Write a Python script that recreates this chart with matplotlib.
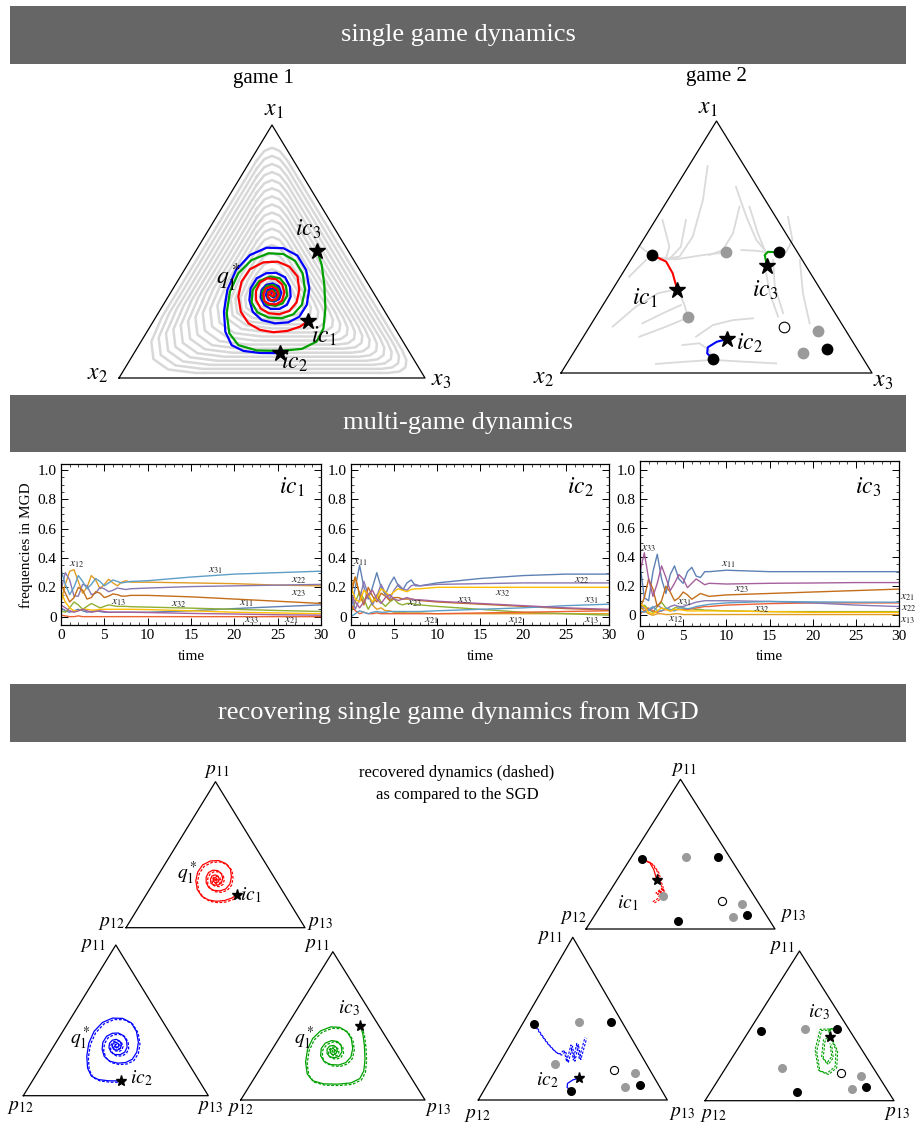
import numpy as np
import matplotlib.pyplot as plt
import matplotlib.transforms as mtransforms
from matplotlib.patches import Rectangle

plt.rcParams['font.family'] = ['Liberation Serif', 'DejaVu Serif']
plt.rcParams['mathtext.fontset'] = 'stix'

W, H = 917, 1125
SQ = np.sqrt(3) / 2

# ---------------- game 1 (single game dynamics), ternary shares x1 / x3 ----------------
G1_RED_X1 = [0.225, 0.203, 0.186, 0.181, 0.190, 0.216, 0.262, 0.322, 0.381, 0.430, 0.457, 0.460, 0.440, 0.401, 0.348,
             0.299, 0.265, 0.252, 0.256, 0.275, 0.308, 0.345, 0.378, 0.394, 0.391, 0.370, 0.339, 0.306, 0.291, 0.293,
             0.304, 0.332, 0.354, 0.362, 0.352, 0.331, 0.312, 0.307, 0.320, 0.339, 0.344, 0.333, 0.323, 0.331]
G1_RED_X3 = [0.506, 0.490, 0.457, 0.414, 0.366, 0.315, 0.267, 0.229, 0.210, 0.213, 0.243, 0.288, 0.337, 0.383, 0.415,
             0.431, 0.424, 0.398, 0.361, 0.325, 0.294, 0.275, 0.272, 0.288, 0.317, 0.348, 0.371, 0.380, 0.368, 0.344,
             0.323, 0.306, 0.303, 0.318, 0.339, 0.356, 0.358, 0.345, 0.327, 0.319, 0.328, 0.342, 0.342, 0.330]
G1_BLUE_X1 = [0.098, 0.099, 0.107, 0.130, 0.183, 0.262, 0.348, 0.427, 0.486, 0.515, 0.513, 0.484, 0.427, 0.354, 0.289,
              0.242, 0.220, 0.216, 0.229, 0.262, 0.308, 0.354, 0.394, 0.414, 0.416, 0.398, 0.361, 0.322, 0.289, 0.273,
              0.273, 0.289, 0.318, 0.348, 0.368, 0.374, 0.362, 0.337, 0.312, 0.302, 0.308, 0.328, 0.348, 0.354, 0.344,
              0.325, 0.318, 0.328, 0.337]
G1_BLUE_X3 = [0.477, 0.411, 0.353, 0.303, 0.256, 0.212, 0.180, 0.169, 0.185, 0.225, 0.281, 0.341, 0.398, 0.445, 0.469,
              0.468, 0.443, 0.402, 0.352, 0.306, 0.272, 0.253, 0.253, 0.274, 0.305, 0.344, 0.378, 0.400, 0.404, 0.388,
              0.359, 0.330, 0.304, 0.292, 0.297, 0.315, 0.341, 0.362, 0.368, 0.356, 0.334, 0.316, 0.312, 0.325, 0.343,
              0.353, 0.346, 0.329, 0.331]
G1_GREEN_X1 = [0.502, 0.447, 0.368, 0.275, 0.196, 0.144, 0.115, 0.107, 0.109, 0.130, 0.177, 0.256, 0.341, 0.414, 0.466,
               0.493, 0.490, 0.463, 0.414, 0.348, 0.289, 0.252, 0.236, 0.239, 0.260, 0.299, 0.348, 0.383, 0.401, 0.394,
               0.365, 0.325, 0.295, 0.285, 0.291, 0.315, 0.344, 0.364, 0.368, 0.352, 0.328, 0.308, 0.306, 0.322, 0.341,
               0.348, 0.337, 0.323, 0.324]
G1_GREEN_X3 = [0.397, 0.439, 0.487, 0.537, 0.570, 0.574, 0.540, 0.473, 0.395, 0.325, 0.272, 0.224, 0.192, 0.183, 0.200,
               0.242, 0.292, 0.344, 0.393, 0.434, 0.453, 0.444, 0.414, 0.369, 0.322, 0.284, 0.263, 0.267, 0.293, 0.329,
               0.363, 0.387, 0.387, 0.368, 0.337, 0.311, 0.297, 0.301, 0.321, 0.345, 0.360, 0.359, 0.343, 0.324, 0.317,
               0.327, 0.343, 0.346, 0.336]
# background stream loops: inset margin of each loop, and corner rounding (top, x3 corner, x2 corner)
GRAY_MARGINS = [0.02, 0.036, 0.052, 0.068, 0.084, 0.10, 0.116, 0.132, 0.148, 0.164,
                0.18, 0.196, 0.212, 0.228, 0.244, 0.26, 0.276, 0.292, 0.308]
GRAY_ROUNDING = [0.10, 0.09, 0.22]

# ---------------- game 2 ----------------
G2_BLACK_X1 = [0.468, 0.479, 0.094, 0.056]
G2_BLACK_X3 = [0.060, 0.461, 0.807, 0.460]
G2_GRAY_X1 = [0.479, 0.221, 0.168, 0.081]
G2_GRAY_X3 = [0.291, 0.297, 0.743, 0.738]
G2_OPEN_X1 = [0.184]
G2_OPEN_X3 = [0.625]
G2_RED_X1 = [0.329, 0.356, 0.396, 0.442, 0.468]
G2_RED_X3 = [0.210, 0.190, 0.161, 0.117, 0.060]
G2_BLUE_X1 = [0.134, 0.124, 0.102, 0.078, 0.056]
G2_BLUE_X3 = [0.466, 0.439, 0.421, 0.431, 0.460]
G2_GREEN_X1 = [0.425, 0.468, 0.481, 0.479]
G2_GREEN_X3 = [0.450, 0.421, 0.425, 0.461]
G2_STREAMS = [
    ([0.821, 0.687, 0.541, 0.462, 0.448], [0.061, 0.113, 0.153, 0.150, 0.092]),
    ([0.607, 0.501, 0.451], [0.098, 0.135, 0.122]),
    ([0.479, 0.468, 0.451, 0.458], [0.292, 0.222, 0.144, 0.082]),
    ([0.660, 0.554, 0.488, 0.468], [0.244, 0.276, 0.276, 0.243]),
    ([0.501, 0.468], [0.005, 0.055]),
    ([0.221, 0.270, 0.316, 0.343], [0.298, 0.262, 0.223, 0.201]),
    ([0.197, 0.237, 0.270], [0.163, 0.209, 0.251]),
    ([0.184, 0.263, 0.316, 0.329], [0.074, 0.109, 0.153, 0.194]),
    ([0.144, 0.184, 0.217], [0.180, 0.246, 0.294]),
    ([0.036, 0.045, 0.052, 0.045, 0.038], [0.287, 0.380, 0.462, 0.563, 0.673]),
    ([0.111, 0.118, 0.091, 0.058], [0.335, 0.386, 0.431, 0.459]),
    ([0.144, 0.190, 0.210, 0.217], [0.362, 0.393, 0.448, 0.509]),
    ([0.739, 0.620, 0.528, 0.481], [0.193, 0.286, 0.364, 0.419]),
    ([0.488, 0.485, 0.478], [0.336, 0.385, 0.432]),
    ([0.660, 0.554, 0.488], [0.276, 0.356, 0.411]),
    ([0.396, 0.316, 0.224], [0.462, 0.513, 0.586]),
    ([0.448, 0.316, 0.197], [0.544, 0.620, 0.701]),
    ([0.620, 0.528, 0.481], [0.420, 0.480, 0.484]),
    ([0.448, 0.343, 0.237], [0.458, 0.516, 0.596]),
    ([0.382, 0.448], [0.028, 0.049]),
    ([0.607, 0.501, 0.455], [0.023, 0.098, 0.110]),
]
# recovered (dashed) game-2 dynamics from the MGD
REC_RED_X1 = [0.472, 0.439, 0.383, 0.316, 0.260, 0.240, 0.272, 0.205, 0.182]
REC_RED_X3 = [0.059, 0.128, 0.186, 0.234, 0.276, 0.250, 0.265, 0.280, 0.262]
REC_BLUE_X1 = [0.467, 0.410, 0.348, 0.297, 0.283, 0.307, 0.235, 0.338, 0.246, 0.348, 0.256, 0.385]
REC_BLUE_X3 = [0.061, 0.121, 0.191, 0.258, 0.291, 0.300, 0.350, 0.321, 0.380, 0.347, 0.406, 0.372]
REC_GREEN_X1 = [0.481, 0.477, 0.339, 0.205, 0.183, 0.227, 0.339, 0.428, 0.405, 0.294, 0.250, 0.294, 0.383]
REC_GREEN_X3 = [0.460, 0.370, 0.413, 0.497, 0.553, 0.575, 0.524, 0.447, 0.424, 0.470, 0.519, 0.523, 0.470]

# ---------------- multi-game dynamics time series ----------------
T_GRID = [0, 0.5, 1, 1.5, 2, 2.5, 3, 3.5, 4, 4.5, 5, 5.5, 6, 6.5, 7, 7.5, 8, 10, 15, 20, 25, 30]
IC1_SERIES = {
    '11': [0.06, 0.04, 0.03, 0.04, 0.05, 0.04, 0.03, 0.035, 0.04, 0.035, 0.03, 0.03, 0.03, 0.03, 0.03, 0.03, 0.03, 0.03, 0.04, 0.055, 0.068, 0.08],
    '12': [0.10, 0.22, 0.31, 0.32, 0.24, 0.16, 0.20, 0.28, 0.25, 0.19, 0.22, 0.255, 0.23, 0.21, 0.235, 0.245, 0.235, 0.235, 0.23, 0.225, 0.215, 0.21],
    '13': [0.04, 0.03, 0.06, 0.10, 0.08, 0.05, 0.07, 0.09, 0.075, 0.06, 0.07, 0.08, 0.075, 0.07, 0.07, 0.07, 0.068, 0.065, 0.058, 0.05, 0.042, 0.035],
    '21': [0.01, 0.005, 0.0, 0.0, 0.005, 0.0, 0.0, 0.0, 0.0, 0.0, 0.0, 0.0, 0.0, 0.0, 0.0, 0.0, 0.0, 0.0, 0.0, 0.0, 0.0, 0.0],
    '22': [0.18, 0.30, 0.25, 0.14, 0.14, 0.22, 0.21, 0.15, 0.16, 0.20, 0.19, 0.17, 0.18, 0.195, 0.19, 0.185, 0.19, 0.195, 0.205, 0.21, 0.215, 0.22],
    '23': [0.22, 0.16, 0.10, 0.13, 0.20, 0.18, 0.12, 0.13, 0.17, 0.16, 0.13, 0.14, 0.155, 0.15, 0.14, 0.14, 0.145, 0.145, 0.135, 0.12, 0.105, 0.09],
    '31': [0.32, 0.22, 0.15, 0.20, 0.28, 0.24, 0.19, 0.22, 0.26, 0.24, 0.21, 0.23, 0.25, 0.24, 0.23, 0.235, 0.24, 0.245, 0.27, 0.29, 0.30, 0.31],
    '32': [0.17, 0.10, 0.06, 0.04, 0.04, 0.05, 0.05, 0.045, 0.045, 0.05, 0.05, 0.05, 0.05, 0.05, 0.05, 0.05, 0.05, 0.048, 0.04, 0.03, 0.025, 0.02],
    '33': [0.08, 0.06, 0.04, 0.03, 0.04, 0.05, 0.04, 0.03, 0.035, 0.04, 0.035, 0.03, 0.03, 0.03, 0.03, 0.03, 0.03, 0.028, 0.022, 0.018, 0.013, 0.01],
}
IC2_SERIES = {
    '11': [0.05, 0.20, 0.35, 0.20, 0.12, 0.20, 0.30, 0.20, 0.15, 0.22, 0.27, 0.21, 0.18, 0.23, 0.25, 0.21, 0.21, 0.23, 0.26, 0.28, 0.29, 0.29],
    '12': [0.20, 0.27, 0.15, 0.10, 0.15, 0.08, 0.05, 0.06, 0.04, 0.04, 0.03, 0.03, 0.03, 0.025, 0.025, 0.025, 0.025, 0.02, 0.02, 0.02, 0.02, 0.02],
    '13': [0.03, 0.10, 0.17, 0.12, 0.05, 0.10, 0.15, 0.10, 0.07, 0.10, 0.12, 0.09, 0.08, 0.09, 0.09, 0.085, 0.08, 0.07, 0.05, 0.03, 0.02, 0.01],
    '21': [0.08, 0.04, 0.02, 0.03, 0.02, 0.02, 0.025, 0.02, 0.02, 0.02, 0.02, 0.02, 0.02, 0.02, 0.02, 0.02, 0.02, 0.02, 0.025, 0.03, 0.035, 0.04],
    '22': [0.15, 0.05, 0.12, 0.24, 0.15, 0.08, 0.14, 0.22, 0.16, 0.12, 0.18, 0.22, 0.19, 0.18, 0.21, 0.22, 0.21, 0.22, 0.225, 0.23, 0.23, 0.23],
    '23': [0.15, 0.27, 0.15, 0.08, 0.20, 0.14, 0.10, 0.16, 0.14, 0.11, 0.13, 0.13, 0.12, 0.12, 0.12, 0.115, 0.11, 0.10, 0.085, 0.07, 0.055, 0.045],
    '31': [0.0, 0.02, 0.04, 0.03, 0.02, 0.03, 0.035, 0.03, 0.03, 0.035, 0.035, 0.035, 0.035, 0.035, 0.035, 0.035, 0.035, 0.04, 0.05, 0.06, 0.075, 0.085],
    '32': [0.20, 0.12, 0.10, 0.18, 0.15, 0.10, 0.13, 0.19, 0.17, 0.14, 0.17, 0.19, 0.18, 0.17, 0.185, 0.19, 0.19, 0.20, 0.20, 0.20, 0.20, 0.20],
    '33': [0.15, 0.10, 0.06, 0.10, 0.15, 0.18, 0.12, 0.09, 0.13, 0.15, 0.12, 0.11, 0.12, 0.13, 0.12, 0.115, 0.115, 0.105, 0.09, 0.075, 0.06, 0.05],
}
IC3_SERIES = {
    '11': [0.35, 0.12, 0.10, 0.30, 0.42, 0.25, 0.15, 0.28, 0.34, 0.25, 0.22, 0.30, 0.33, 0.27, 0.26, 0.30, 0.30, 0.31, 0.30, 0.30, 0.30, 0.30],
    '12': [0.06, 0.03, 0.01, 0.0, 0.01, 0.01, 0.005, 0.005, 0.01, 0.01, 0.005, 0.005, 0.005, 0.005, 0.005, 0.005, 0.005, 0.005, 0.005, 0.005, 0.005, 0.005],
    '13': [0.05, 0.07, 0.04, 0.02, 0.06, 0.09, 0.05, 0.03, 0.05, 0.06, 0.05, 0.04, 0.045, 0.04, 0.04, 0.035, 0.035, 0.03, 0.025, 0.025, 0.025, 0.025],
    '21': [0.01, 0.03, 0.05, 0.03, 0.02, 0.03, 0.04, 0.03, 0.035, 0.04, 0.04, 0.04, 0.045, 0.05, 0.055, 0.06, 0.06, 0.07, 0.08, 0.085, 0.085, 0.085],
    '22': [0.07, 0.05, 0.03, 0.05, 0.07, 0.05, 0.04, 0.06, 0.07, 0.06, 0.06, 0.07, 0.08, 0.09, 0.095, 0.10, 0.10, 0.10, 0.095, 0.085, 0.07, 0.06],
    '23': [0.05, 0.12, 0.25, 0.18, 0.06, 0.10, 0.20, 0.16, 0.10, 0.12, 0.16, 0.14, 0.11, 0.13, 0.15, 0.14, 0.13, 0.14, 0.15, 0.16, 0.17, 0.18],
    '31': [0.03, 0.02, 0.04, 0.06, 0.03, 0.03, 0.05, 0.04, 0.03, 0.05, 0.05, 0.045, 0.05, 0.06, 0.065, 0.07, 0.075, 0.085, 0.095, 0.092, 0.09, 0.09],
    '32': [0.08, 0.06, 0.02, 0.01, 0.03, 0.05, 0.04, 0.03, 0.04, 0.04, 0.035, 0.03, 0.03, 0.03, 0.03, 0.03, 0.03, 0.03, 0.025, 0.02, 0.02, 0.02],
    '33': [0.30, 0.43, 0.25, 0.13, 0.22, 0.34, 0.26, 0.17, 0.22, 0.28, 0.25, 0.19, 0.22, 0.25, 0.23, 0.21, 0.22, 0.215, 0.22, 0.222, 0.225, 0.225],
}
IC1_LABELS = [('12', 1.8, 0.36), ('31', 17.8, 0.32), ('22', 27.4, 0.25), ('23', 27.4, 0.16), ('13', 6.6, 0.10),
              ('32', 13.6, 0.086), ('11', 21.4, 0.09), ('33', 22.0, -0.02), ('21', 26.6, -0.02)]
IC2_LABELS = [('11', 1.05, 0.37), ('22', 26.8, 0.25), ('23', 7.4, 0.09), ('33', 13.2, 0.115), ('32', 17.7, 0.16),
              ('31', 28.0, 0.115), ('21', 9.4, -0.023), ('12', 19.2, -0.023), ('13', 28.0, -0.023)]
IC3_LABELS = [('33', 1.0, 0.46), ('11', 10.2, 0.353), ('23', 11.8, 0.18), ('31', 5.2, 0.088), ('32', 14.1, 0.04),
              ('12', 4.2, -0.028), ('21', 31.0, 0.125), ('22', 31.1, 0.048), ('13', 31.0, -0.03)]
MMA_COLORS = {'11': '#5E81B5', '12': '#E19C24', '13': '#8FB032', '21': '#EB6235', '22': '#8778B3',
              '23': '#C56E1A', '31': '#5D9EC7', '32': '#FFBF00', '33': '#A5609D'}

RED, BLUE, GREEN = '#ff0000', '#0000ff', '#00a000'

fig = plt.figure(figsize=(W / 100, H / 100), dpi=100)


def box(left, top, right, bottom):
    return [left / W, 1 - bottom / H, (right - left) / W, (bottom - top) / H]


def ftext(px, py, s, size, **kw):
    kw.setdefault('ha', 'center')
    kw.setdefault('va', 'center')
    fig.text(px / W, 1 - py / H, s, fontsize=size, **kw)


def tern(x1, x3):
    x1 = np.asarray(x1, dtype=float)
    x3 = np.asarray(x3, dtype=float)
    return x3 + x1 / 2, x1 * SQ


def tri_axes(left, top, right, bottom):
    ax = fig.add_axes(box(left, top, right, bottom))
    ax.set_xlim(0, 1)
    ax.set_ylim(0, SQ)
    ax.axis('off')
    ax.plot([0, 1, 0.5, 0], [0, 0, SQ, 0], color='black', lw=0.9, clip_on=False, zorder=6)
    return ax


def gray_loop(m, rounding):
    # inset triangle (x1, x2, x3) whose corners are rounded off by quadratic arcs
    corners = np.array([[1 - 2 * m, m, m], [m, m, 1 - 2 * m], [m, 1 - 2 * m, m]])
    side = 1 - 3 * m
    pts = []
    for k in range(3):
        c, prv, nxt = corners[k], corners[k - 1], corners[(k + 1) % 3]
        f = min(rounding[k] / side, 0.5)
        a = c + f * (prv - c)
        b = c + f * (nxt - c)
        for s in (0.0, 0.25, 0.5, 0.75, 1.0):
            pts.append((1 - s) ** 2 * a + 2 * s * (1 - s) * c + s ** 2 * b)
    pts.append(pts[0])
    pts = np.array(pts)
    return pts[:, 0], pts[:, 2]


def star(ax, x1, x3, ms):
    u, v = tern([x1], [x3])
    ax.plot(u, v, marker='*', ms=ms, color='black', ls='none', zorder=8, clip_on=False)


def g2_points(ax, ms):
    u, v = tern(G2_GRAY_X1, G2_GRAY_X3)
    ax.plot(u, v, 'o', ms=ms, color='#9a9a9a', mec='none', zorder=7)
    u, v = tern(G2_BLACK_X1, G2_BLACK_X3)
    ax.plot(u, v, 'o', ms=ms, color='black', mec='none', zorder=7)
    u, v = tern(G2_OPEN_X1, G2_OPEN_X3)
    ax.plot(u, v, 'o', ms=ms * 0.9, mfc='white', mec='black', mew=0.8, zorder=7)


def shifted(ax, dx, dy):
    return mtransforms.offset_copy(ax.transData, fig=fig, x=dx, y=dy, units='dots')


# ---------------- banners ----------------
for top, bottom, title in [(6, 64, 'single game dynamics'), (395, 452, 'multi-game dynamics'),
                           (684, 742, 'recovering single game dynamics from MGD')]:
    fig.add_artist(Rectangle((10 / W, 1 - bottom / H), 896 / W, (bottom - top) / H,
                             transform=fig.transFigure, color='#666666', lw=0))
    ftext(458, (top + bottom) / 2, title, 19, color='white')

# ---------------- game 1 ----------------
ax = tri_axes(119, 125, 425, 378)
for m in GRAY_MARGINS:
    a, b = gray_loop(m, GRAY_ROUNDING)
    u, v = tern(a, b)
    ax.plot(u, v, color='#d8d8d8', lw=1.8, solid_joinstyle='round', zorder=1)
for x1s, x3s, col in [(G1_BLUE_X1, G1_BLUE_X3, BLUE), (G1_GREEN_X1, G1_GREEN_X3, GREEN),
                      (G1_RED_X1, G1_RED_X3, RED)]:
    u, v = tern(x1s, x3s)
    ax.plot(u, v, color=col, lw=1.6, solid_joinstyle='round', zorder=3)
    star(ax, x1s[0], x3s[0], 12)
ftext(263, 79, 'game 1', 15)
ftext(274, 110, r'$x_1$', 17)
ftext(97, 374, r'$x_2$', 17)
ftext(441, 380, r'$x_3$', 17)
ftext(308, 229, r'$ic_3$', 17)
ftext(228, 278, r'$q_1^*$', 17)
ftext(324, 336, r'$ic_1$', 17)
ftext(294, 362, r'$ic_2$', 17)

# ---------------- game 2 ----------------
ax = tri_axes(561, 121, 872, 373)
for x1s, x3s in G2_STREAMS:
    u, v = tern(x1s, x3s)
    ax.plot(u, v, color='#dadada', lw=1.3, zorder=1)
for x1s, x3s, col in [(G2_RED_X1, G2_RED_X3, RED), (G2_BLUE_X1, G2_BLUE_X3, BLUE),
                      (G2_GREEN_X1, G2_GREEN_X3, GREEN)]:
    u, v = tern(x1s, x3s)
    ax.plot(u, v, color=col, lw=1.5, zorder=3)
    star(ax, x1s[0], x3s[0], 12)
g2_points(ax, 8.5)
ftext(716, 77, 'game 2', 15)
ftext(708, 108, r'$x_1$', 17)
ftext(543, 378, r'$x_2$', 17)
ftext(883, 381, r'$x_3$', 17)
ftext(645, 298, r'$ic_1$', 17)
ftext(765, 290, r'$ic_3$', 17)
ftext(749, 343, r'$ic_2$', 17)

# ---------------- multi-game dynamics ----------------
panels = [((61, 464, 321, 625), IC1_SERIES, IC1_LABELS, r'$ic_1$', (-0.057, 1.041), 292),
          ((351, 464, 609, 625), IC2_SERIES, IC2_LABELS, r'$ic_2$', (-0.057, 1.041), 580),
          ((640, 461, 899, 626), IC3_SERIES, IC3_LABELS, r'$ic_3$', (-0.074, 1.062), 868)]
for bx, series, labels, tag, ylim, tagx in panels:
    ax = fig.add_axes(box(*bx))
    for key in ['11', '12', '13', '21', '22', '23', '31', '32', '33']:
        ax.plot(T_GRID, series[key], color=MMA_COLORS[key], lw=1.0)
    for key, t, y in labels:
        ax.text(t, y, r'$x_{%s}$' % key, fontsize=8.5, ha='center', va='center', clip_on=False, color='#222222')
    ax.set_xlim(0, 30)
    ax.set_ylim(*ylim)
    ax.set_xticks(range(0, 31, 5))
    ax.set_xticks(range(0, 31), minor=True)
    ax.set_yticks([0, 0.2, 0.4, 0.6, 0.8, 1.0])
    ax.set_yticklabels(['0', '0.2', '0.4', '0.6', '0.8', '1.0'])
    ax.set_yticks(np.arange(0, 1.01, 0.05), minor=True)
    ax.tick_params(which='both', direction='in', top=True, right=True)
    ax.tick_params(which='major', length=5, width=0.7, labelsize=11, pad=3)
    ax.tick_params(which='minor', length=2.5, width=0.5)
    for sp in ax.spines.values():
        sp.set_linewidth(0.9)
    ftext(tagx, 487, tag, 17)
    ftext((bx[0] + bx[2]) / 2, 657, 'time', 11)
ftext(26, 545, 'frequencies in MGD', 11, rotation=90)

# ---------------- recovering single game dynamics ----------------
ftext(457, 773, 'recovered dynamics (dashed)', 12)
ftext(457, 795, 'as compared to the SGD', 12)

# game 1: SGD (solid) and recovered (dashed)
game1_small = [((126, 781.7, 305, 927.7), G1_RED_X1, G1_RED_X3, RED),
               ((23.3, 945, 208.3, 1095.7), G1_BLUE_X1, G1_BLUE_X3, BLUE),
               ((240.7, 951.7, 425, 1100), G1_GREEN_X1, G1_GREEN_X3, GREEN)]
for bx, x1s, x3s, col in game1_small:
    ax = tri_axes(*bx)
    u, v = tern(x1s, x3s)
    ax.plot(u, v, color=col, lw=0.9, zorder=3)
    ax.plot(u, v, color=col, lw=0.9, ls=(0, (2.2, 1.3)), zorder=3, transform=shifted(ax, 1.6, -1.4))
    star(ax, x1s[0], x3s[0], 8)

# game 2: SGD (solid) and recovered (dashed)
game2_small = [((586, 779.3, 775, 929), G2_RED_X1, G2_RED_X3, REC_RED_X1, REC_RED_X3, RED),
               ((478.3, 937.3, 667.3, 1100), G2_BLUE_X1, G2_BLUE_X3, REC_BLUE_X1, REC_BLUE_X3, BLUE),
               ((705, 951, 894, 1100.7), G2_GREEN_X1, G2_GREEN_X3, REC_GREEN_X1, REC_GREEN_X3, GREEN)]
for bx, x1s, x3s, r1, r3, col in game2_small:
    ax = tri_axes(*bx)
    u, v = tern(x1s, x3s)
    ax.plot(u, v, color=col, lw=0.9, zorder=3)
    u, v = tern(r1, r3)
    ax.plot(u, v, color=col, lw=0.8, ls=(0, (2.2, 1.3)), zorder=3)
    ax.plot(u, v, color=col, lw=0.8, ls=(0, (2.2, 1.3)), zorder=3, transform=shifted(ax, 1.6, -1.2))
    g2_points(ax, 6.5)
    star(ax, x1s[0], x3s[0], 8)

small_labels = [
    (217, 771, r'$p_{11}$'), (111, 923, r'$p_{12}$'), (320, 923, r'$p_{13}$'),
    (187, 873, r'$q_1^*$'), (251, 895, r'$ic_1$'),
    (93, 946, r'$p_{11}$'), (20, 1108, r'$p_{12}$'), (210, 1108, r'$p_{13}$'),
    (80, 1038, r'$q_1^*$'), (141, 1078, r'$ic_2$'),
    (317, 945, r'$p_{11}$'), (240, 1110, r'$p_{12}$'), (438, 1110, r'$p_{13}$'),
    (304, 1038, r'$q_1^*$'), (349, 1008, r'$ic_3$'),
    (684, 770, r'$p_{11}$'), (573, 917, r'$p_{12}$'), (793, 915, r'$p_{13}$'), (628, 903, r'$ic_1$'),
    (550, 938, r'$p_{11}$'), (477, 1115, r'$p_{12}$'), (682, 1113, r'$p_{13}$'), (547, 1080, r'$ic_2$'),
    (782, 947, r'$p_{11}$'), (713, 1115, r'$p_{12}$'), (897, 1113, r'$p_{13}$'), (819, 1012, r'$ic_3$'),
]
for px, py, s in small_labels:
    ftext(px, py, s, 14)

fig.savefig('out.png', dpi=100, facecolor='white')
